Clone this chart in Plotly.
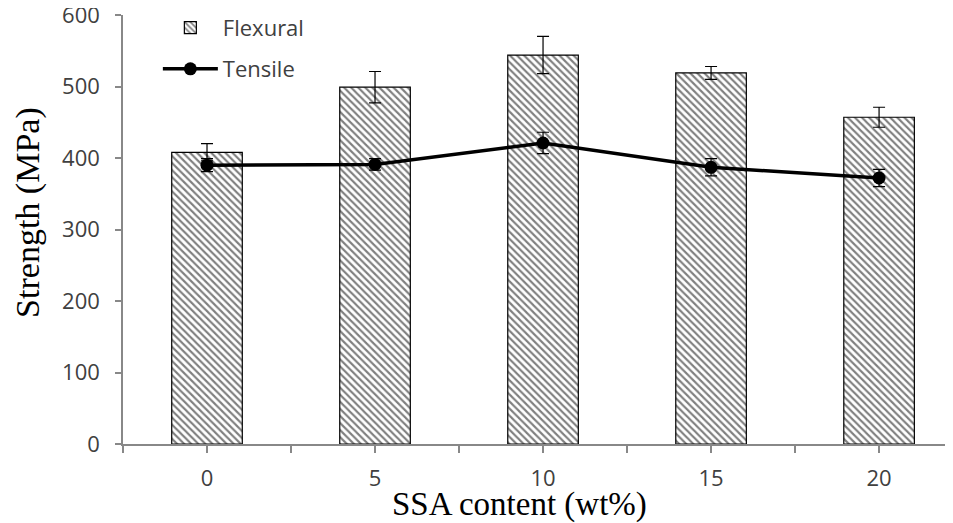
import plotly.graph_objects as go

categories = ["0", "5", "10", "15", "20"]
flexural = [408, 499, 544, 519, 457]
flexural_err = [12, 22, 26, 9, 14]
tensile = [390, 391, 421, 387, 372]
tensile_err = [9, 8, 15, 12, 12]
y_ticks = [0, 100, 200, 300, 400, 500, 600]
x_title = "SSA content (wt%)"
y_title = "Strength (MPa)"

xpos = list(range(len(categories)))

fig = go.Figure()
fig.add_trace(go.Bar(
    x=xpos, y=flexural, name="Flexural", width=0.42,
    marker=dict(color="white", line=dict(color="black", width=1.2),
                pattern=dict(shape="\\", size=5, solidity=0.42, fgcolor="black", bgcolor="white")),
    error_y=dict(type="data", array=flexural_err, color="black", thickness=1.2, width=6),
    legend="legend",
))
fig.add_trace(go.Scatter(
    x=xpos, y=tensile, name="Tensile", mode="lines+markers",
    line=dict(color="black", width=3.5),
    marker=dict(color="black", size=13, symbol="circle"),
    error_y=dict(type="data", array=tensile_err, color="black", thickness=1.2, width=6),
    legend="legend2",
))

tickvals = [i * 0.5 - 0.5 for i in range(11)]
ticktext = ["" if (i % 2 == 0) else categories[i // 2] for i in range(11)]

axis_color = "#888888"
tick_font = dict(family="Open Sans, Liberation Sans, sans-serif", size=22, color="#404040")
title_family = "Liberation Serif, Times New Roman, serif"

# page is rendered with an 8px body margin, so figure is shrunk by 8px
fig.update_layout(
    width=945, height=515,
    margin=dict(l=115, r=0, t=7, b=79, autoexpand=False),
    plot_bgcolor="white", paper_bgcolor="white",
    xaxis=dict(range=[-0.5, 4.44], tickvals=tickvals, ticktext=ticktext, automargin=False,
               showgrid=False, zeroline=False, showline=True, linecolor=axis_color, linewidth=1.5,
               ticks="outside", ticklen=7, tickcolor=axis_color, tickwidth=1.5,
               ticklabelstandoff=7, ticklabeloverflow="allow",
               tickfont=tick_font),
    yaxis=dict(range=[0, 600], tickvals=y_ticks, automargin=False,
               showgrid=False, zeroline=False, showline=True, linecolor=axis_color, linewidth=1.5,
               ticks="outside", ticklen=6, tickcolor=axis_color, tickwidth=1.5,
               ticklabelstandoff=11, ticklabeloverflow="allow",
               tickfont=tick_font),
    legend=dict(x=0.042, y=1.019, xanchor="left", yanchor="top", itemwidth=55,
                bgcolor="rgba(0,0,0,0)", font=tick_font),
    legend2=dict(x=0.042, y=0.923, xanchor="left", yanchor="top", itemwidth=55,
                 bgcolor="rgba(0,0,0,0)", font=tick_font),
    showlegend=True,
    annotations=[
        dict(text=x_title, xref="paper", yref="paper", x=0.478, y=-0.142,
             xanchor="center", yanchor="middle", showarrow=False,
             font=dict(family=title_family, size=33, color="black")),
        dict(text=y_title, xref="paper", yref="paper", x=-0.1145, y=0.541,
             xanchor="center", yanchor="middle", showarrow=False, textangle=-90,
             font=dict(family=title_family, size=34, color="black")),
    ],
)

fig.write_html("out.html")
